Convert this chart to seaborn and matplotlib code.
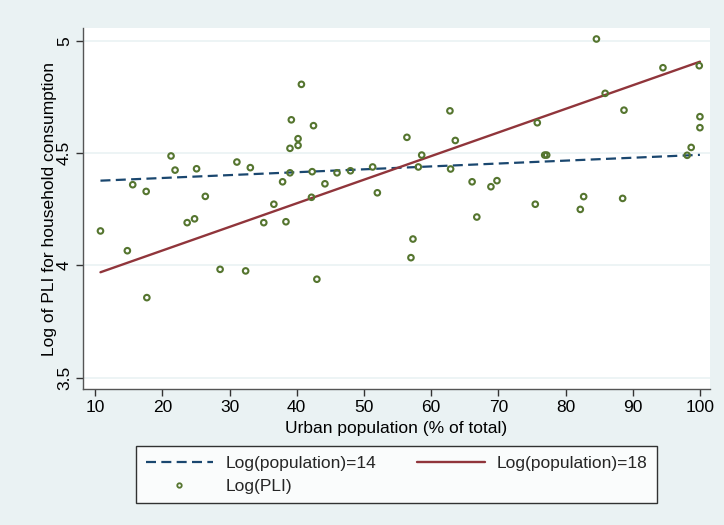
import matplotlib
matplotlib.use("Agg")
import matplotlib.pyplot as plt
import seaborn as sns
import pandas as pd
from matplotlib.lines import Line2D

urban_pct = [10.8, 14.8, 15.6, 17.6, 17.7, 21.3, 21.9, 23.7, 24.8, 25.1, 26.4, 28.6,
             31.1, 32.4, 33.1, 35.1, 36.6, 37.9, 38.4, 39.0, 39.0, 39.2, 40.2, 40.2,
             40.7, 42.2, 42.3, 42.5, 43.0, 44.2, 46.0, 48.0, 51.3, 52.0, 56.4, 57.0,
             57.3, 58.1, 58.6, 62.8, 62.9, 63.6, 66.1, 66.8, 68.9, 69.8, 75.5, 75.8,
             76.9, 77.2, 82.2, 82.7, 84.6, 85.9, 88.5, 88.7, 94.5, 98.1, 98.7, 99.9,
             100.0, 100.0]
log_pli = [4.153, 4.065, 4.359, 4.329, 3.856, 4.487, 4.424, 4.190, 4.207, 4.430, 4.307, 3.982,
           4.460, 3.975, 4.435, 4.190, 4.272, 4.372, 4.194, 4.412, 4.521, 4.648, 4.564, 4.534,
           4.806, 4.303, 4.417, 4.622, 3.938, 4.363, 4.412, 4.421, 4.438, 4.323, 4.570, 4.034,
           4.117, 4.438, 4.491, 4.688, 4.429, 4.556, 4.372, 4.215, 4.350, 4.377, 4.272, 4.635,
           4.491, 4.491, 4.249, 4.306, 5.008, 4.766, 4.298, 4.691, 4.880, 4.490, 4.525, 4.889,
           4.662, 4.613]

line_x = [10.8, 100.0]
pred_pop14 = [4.377, 4.492]
pred_pop18 = [3.969, 4.907]

x_ticks = [10, 20, 30, 40, 50, 60, 70, 80, 90, 100]
y_ticks = [3.5, 4, 4.5, 5]
y_tick_labels = ["3.5", "4", "4.5", "5"]

BG = "#EAF2F3"
BLUE = "#1A476F"
RED = "#90353B"
GREEN = "#55752F"
DASH = (0, (4.5, 2.4))
FS = 12.5

sns.set_theme(style="white")
plt.rcParams["font.family"] = ["Liberation Sans", "DejaVu Sans"]

fig = plt.figure(figsize=(7.24, 5.25), dpi=100, facecolor=BG)
ax = fig.add_axes([83 / 724, 1 - 389 / 525, (710 - 83) / 724, (389 - 28) / 525])
ax.set_facecolor("white")

scatter_df = pd.DataFrame({"x": urban_pct, "y": log_pli})
lines_df = pd.DataFrame({"x": line_x * 2,
                         "y": pred_pop14 + pred_pop18,
                         "grp": ["14"] * 2 + ["18"] * 2})

for yv in y_ticks:
    ax.axhline(yv, color=BG, lw=1.2, zorder=0)

sns.lineplot(data=lines_df[lines_df.grp == "14"], x="x", y="y", ax=ax,
             color=BLUE, lw=1.6, linestyle=DASH, legend=False, zorder=2)
sns.lineplot(data=lines_df[lines_df.grp == "18"], x="x", y="y", ax=ax,
             color=RED, lw=1.7, legend=False, zorder=2)
sns.scatterplot(data=scatter_df, x="x", y="y", ax=ax, marker="o", s=16,
                facecolor="none", edgecolor=GREEN, linewidth=1.5, zorder=3)

ax.set_xlim(8.2, 101.5)
ax.set_ylim(3.449, 5.057)
ax.set_xticks(x_ticks)
ax.set_yticks(y_ticks)
ax.set_yticklabels(y_tick_labels, rotation=90, va="center")
ax.tick_params(axis="both", direction="out", length=5, width=1, color="#333333",
               labelsize=FS, labelcolor="black", bottom=True, left=True, pad=3)
for side in ["top", "right"]:
    ax.spines[side].set_visible(False)
for side in ["left", "bottom"]:
    ax.spines[side].set_color("#555555")
    ax.spines[side].set_linewidth(1.0)

ax.set_xlabel("Urban population (% of total)", fontsize=FS, labelpad=4, color="black")
ax.set_ylabel("Log of PLI for household consumption", fontsize=FS, labelpad=0, color="black")

handles = [
    Line2D([], [], color=BLUE, lw=1.6, linestyle=DASH),
    Line2D([], [], marker="o", linestyle="none", markerfacecolor="none",
           markeredgecolor=GREEN, markersize=3.2, markeredgewidth=1.3),
    Line2D([], [], color=RED, lw=1.7),
]
labels = ["Log(population)=14", "Log(PLI)", "Log(population)=18"]
leg = fig.legend(handles, labels, ncol=2, loc="upper left",
                 bbox_to_anchor=(136 / 724, 1 - 446 / 525, (657 - 136) / 724, 0.0),
                 bbox_transform=fig.transFigure, mode="expand",
                 fontsize=FS, frameon=True, fancybox=False, handlelength=3.9,
                 handletextpad=0.7, borderpad=0.55, labelspacing=0.45, columnspacing=2.5,
                 borderaxespad=0)
leg.get_frame().set_edgecolor("black")
leg.get_frame().set_linewidth(1.0)
leg.get_frame().set_facecolor("white")

fig.savefig("out.png", dpi=100, facecolor=BG)
